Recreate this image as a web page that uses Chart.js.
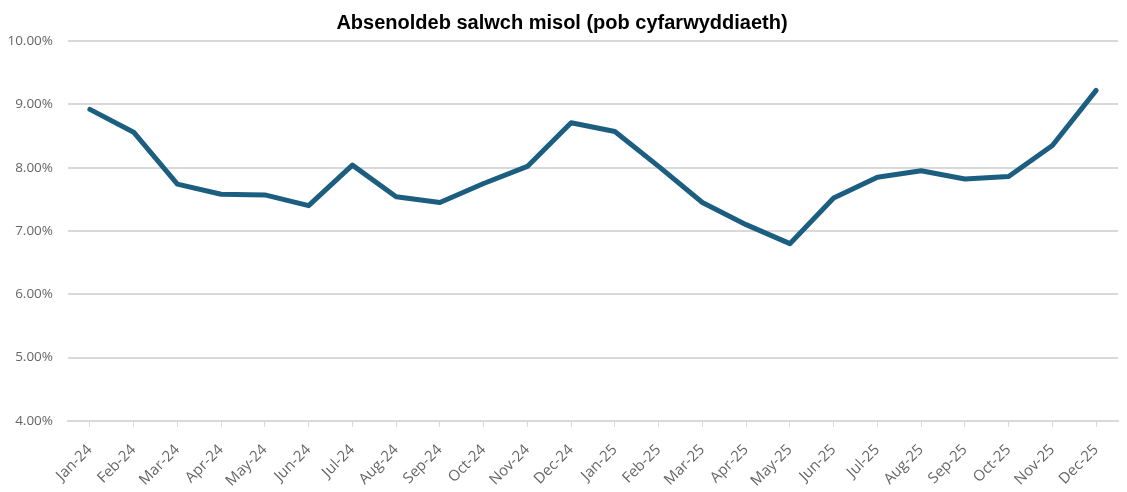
<!DOCTYPE html>
<html>
<head>
    <title>Absenoldeb salwch misol</title>
    <script src="https://cdn.jsdelivr.net/npm/chart.js@4.4.1/dist/chart.umd.min.js"></script>
    <style type="text/css">
      body { margin: 0; background: #fff; }
      #chart-container {
        width: 1127px;
        height: 492px;
      }
    </style>
</head>
<body>
  <div id="chart-container">
    <canvas id="mycanvas"></canvas>
  </div>
<script>
var months = ['Jan-24','Feb-24','Mar-24','Apr-24','May-24','Jun-24','Jul-24','Aug-24','Sep-24','Oct-24','Nov-24','Dec-24',
              'Jan-25','Feb-25','Mar-25','Apr-25','May-25','Jun-25','Jul-25','Aug-25','Sep-25','Oct-25','Nov-25','Dec-25'];
var absence = [8.92, 8.56, 7.74, 7.58, 7.57, 7.40, 8.04, 7.54, 7.45, 7.75, 8.02, 8.71,
               8.57, 8.02, 7.45, 7.10, 6.80, 7.52, 7.85, 7.95, 7.82, 7.86, 8.35, 9.22];
var yMin = 4, yMax = 10, yStep = 1;

var ctx = document.getElementById('mycanvas');
new Chart(ctx, {
  type: 'line',
  data: {
    labels: months,
    datasets: [{
      label: 'Absenoldeb salwch',
      data: absence,
      borderColor: '#1b5e80',
      backgroundColor: '#1b5e80',
      borderWidth: 5,
      pointRadius: 0,
      tension: 0,
      borderJoinStyle: 'round',
      borderCapStyle: 'round'
    }]
  },
  options: {
    responsive: true,
    maintainAspectRatio: false,
    animation: false,
    layout: { padding: { left: 6, right: 9, top: 2, bottom: -12 } },
    plugins: {
      legend: { display: false },
      tooltip: { enabled: false },
      title: {
        display: true,
        text: 'Absenoldeb salwch misol (pob cyfarwyddiaeth)',
        color: '#000',
        font: { family: 'Liberation Sans, Arial, sans-serif', size: 20, weight: 'bold' },
        padding: { top: 9, bottom: 6 }
      }
    },
    scales: {
      x: {
        offset: true,
        grid: { display: true, drawOnChartArea: false, tickLength: 6, color: '#d9d9d9' },
        border: { display: true, color: '#d9d9d9', width: 2 },
        ticks: {
          color: '#666666',
          font: { family: 'Open Sans, sans-serif', size: 15 },
          maxRotation: 45, minRotation: 45,
          padding: 14,
          autoSkip: false
        },
        // the rotated first label would otherwise push the plot to the right
        afterFit: function(scale) { scale.paddingLeft = 0; scale.paddingRight = 0; }
      },
      y: {
        min: yMin, max: yMax,
        grid: { color: '#d9d9d9', lineWidth: 2, tickLength: 0, drawTicks: false },
        border: { display: false },
        ticks: {
          stepSize: yStep,
          color: '#666666',
          font: { family: 'Open Sans, sans-serif', size: 13.5 },
          padding: 15,
          callback: function(v) { return v.toFixed(2) + '%'; }
        },
        afterFit: function(scale) { scale.width = 62; }
      }
    }
  }
});
</script>
</body>
</html>
